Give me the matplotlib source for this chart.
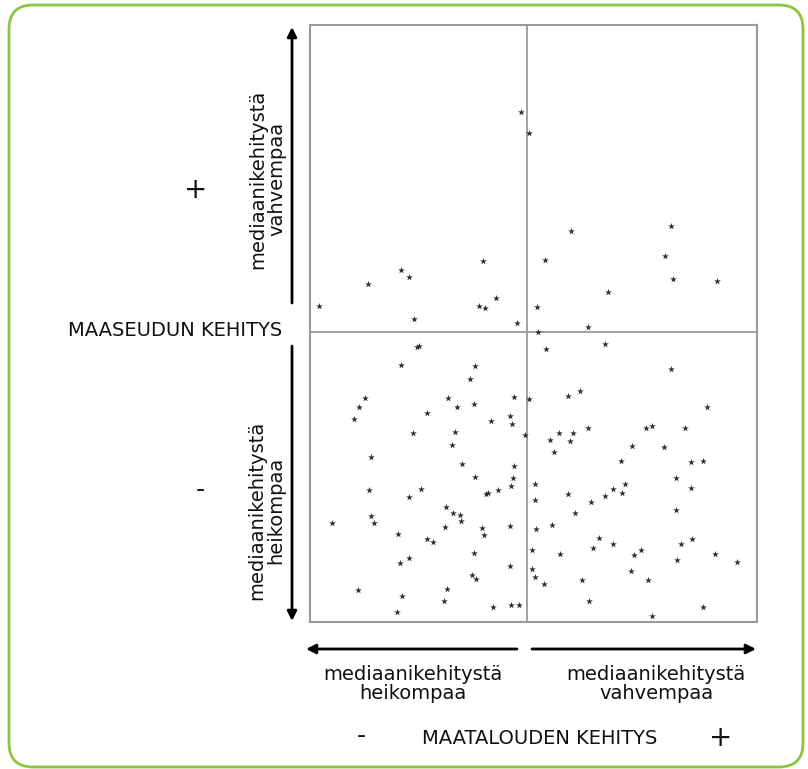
import matplotlib
matplotlib.use("Agg")
import matplotlib.pyplot as plt
from matplotlib.patches import FancyBboxPatch, FancyArrowPatch

# Each point = one region. x = maatalouden kehitys, y = maaseudun kehitys,
# both relative to the median (median at 0, 0).
farm_dev = [
    -6, 2, -44, -126, -118, -159, -31, -208, -48, -42, -113, -10,
    144, 44, 138, 18, 146, 190, 81, 10, 61, 11,
    -110, -108, -126, -52, -57, -162, -79, -13, 2, -168, -70, -53, -100, -173,
    -36, -17, -15, -2, -114, -72, -75, -156, -65, -13, -52, -14,
    78, 19, 144, 53, 41, 180, 32, 46, 61, 119, 125, 158, 23, 43, 27, 105,
    137, 94, 164, 176, 149,
    -158, -106, -118, -41, -39, -29, -16, -81, -156, -74, -67, -66, -195, -153,
    -82, -45, -17, -43, -129, -100, -94, -53, -118, -127, -17, -55, -51, -80,
    -169, -125, -83, -34, -16, -8, -130,
    8, 98, 86, 164, 41, 78, 95, 8, 64, 149, 48, 25, 9, 72, 165, 86, 154, 66,
    5, 114, 33, 107, 188, 150, 210, 5, 8, 104, 55, 121, 17, 62, 176, 125,
]
rural_dev = [
    220, 199, 71, 62, 55, 48, 34, 26, 26, 24, 13, 9,
    106, 101, 76, 72, 53, 51, 40, 25, 5, 0,
    -15, -14, -33, -34, -47, -66, -66, -65, -67, -75, -75, -72, -81, -87,
    -89, -84, -92, -103, -101, -100, -113, -125, -132, -134, -145, -146,
    -12, -17, -37, -59, -64, -75, -101, -101, -96, -96, -94, -96, -108, -109, -120, -114,
    -115, -129, -130, -129, -146,
    -158, -157, -165, -162, -161, -158, -154, -175, -184, -181, -183, -189, -191, -191,
    -195, -196, -194, -203, -202, -207, -210, -221, -226, -231, -234, -243, -247, -257,
    -258, -264, -269, -275, -273, -273, -280,
    -152, -152, -157, -156, -162, -164, -161, -168, -170, -178, -181, -193, -197, -206, -207, -212, -212, -216,
    -218, -218, -222, -223, -222, -228, -230, -237, -245, -239, -248, -248, -252, -269, -275, -284,
]

x_range = (-217, 230)
y_range = (-290, 307)

W, H = 808, 769
fig = plt.figure(figsize=(W / 100, H / 100), dpi=100)
plt.rcParams["font.family"] = ["DejaVu Sans"]

# background layer in pixel coordinates for the frame, arrows and labels
bg = fig.add_axes([0, 0, 1, 1], zorder=0)
bg.set_xlim(0, W)
bg.set_ylim(H, 0)
bg.axis("off")

frame = FancyBboxPatch((9, 5), 794, 762, boxstyle="round,pad=0,rounding_size=24",
                       fc="white", ec="#8cc63f", lw=2)
bg.add_patch(frame)

def arrow(p0, p1):
    bg.add_patch(FancyArrowPatch(p0, p1, arrowstyle="-|>", mutation_scale=14,
                                 lw=2, color="black", shrinkA=0, shrinkB=0))

arrow((292, 303), (292, 27))
arrow((292, 346), (292, 621))
arrow((517, 649), (306, 649))
arrow((532, 649), (756, 649))

fs = 14
txt = dict(ha="center", va="center", fontsize=fs, color="#111111", linespacing=1.0)
bg.text(267, 179, "mediaanikehitystä\nvahvempaa", rotation=90, multialignment="center", **txt)
bg.text(266, 510, "mediaanikehitystä\nheikompaa", rotation=90, multialignment="center", **txt)
bg.text(196, 190, "+", ha="center", va="center", fontsize=20, color="#111111")
bg.text(200, 490, "-", ha="center", va="center", fontsize=18, color="#111111")
bg.text(282, 331, "MAASEUDUN KEHITYS", ha="right", va="center", fontsize=fs, color="#111111")

bg.text(413, 684, "mediaanikehitystä\nheikompaa", multialignment="center", **txt)
bg.text(656, 684, "mediaanikehitystä\nvahvempaa", multialignment="center", **txt)
bg.text(361, 736, "-", ha="center", va="center", fontsize=18, color="#111111")
bg.text(540, 739, "MAATALOUDEN KEHITYS", ha="center", va="center", fontsize=fs, color="#111111")
bg.text(721, 738, "+", ha="center", va="center", fontsize=20, color="#111111")

# scatter
ax = fig.add_axes([310 / W, 1 - 622 / H, 447 / W, 597 / H], zorder=1)
ax.scatter(farm_dev, rural_dev, marker="*", s=26, color="#2e2e2e", linewidths=0, zorder=3)
ax.axhline(0, color="#9a9a9a", lw=1.3, zorder=1)
ax.axvline(0, color="#9a9a9a", lw=1.3, zorder=1)
ax.set_xlim(*x_range)
ax.set_ylim(*y_range)
ax.set_xticks([])
ax.set_yticks([])
for s in ax.spines.values():
    s.set_color("#9a9a9a")
    s.set_linewidth(1.5)

fig.savefig("out.png", dpi=100)
